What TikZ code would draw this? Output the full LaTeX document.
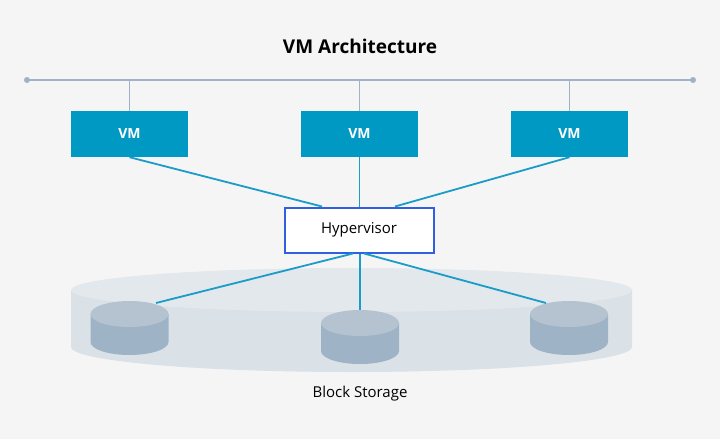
\documentclass[tikz,border=0pt]{standalone}
\usepackage{fontspec}
\setmainfont{Open Sans}
\definecolor{bg}{HTML}{F5F5F5}
\definecolor{bus}{HTML}{9FB3C8}
\definecolor{vm}{HTML}{0099C4}
\definecolor{link}{HTML}{1A9BC8}
\definecolor{hvb}{HTML}{3060E0}
\definecolor{ptop}{HTML}{E3E8EC}
\definecolor{pside}{HTML}{DAE1E7}
\definecolor{ctop}{HTML}{B5C3D1}
\definecolor{cside}{HTML}{9FB3C6}
\begin{document}
\begin{tikzpicture}[x=1pt,y=-1pt,
  vmbox/.style={fill=vm,minimum width=117pt,minimum height=46pt,inner sep=0pt,text=white,font=\bfseries\fontsize{14}{16}\selectfont},
  lnk/.style={draw=link,line width=1.8pt},
  drop/.style={draw=bus,line width=1.8pt}]
\useasboundingbox (0,0) rectangle (720,439);
\fill[bg] (0,0) rectangle (720,439);
\node[font=\fontsize{19}{22}\selectfont\bfseries] (title) at (360,46) {VM Architecture};
% bus
\coordinate (b1) at (27,80); \coordinate (b2) at (693,80);
\draw[drop] (b1) -- (b2);
\fill[bus] (b1) circle (3); \fill[bus] (b2) circle (3);
% VMs
\node[vmbox] (vm1) at (129.5,134) {VM};
\node[vmbox] (vm2) at (359.5,134) {VM};
\node[vmbox] (vm3) at (569.5,134) {VM};
\foreach \v in {vm1,vm2,vm3} \draw[drop] (\v.north) -- (\v.north |- b1);
% platter
\fill[pside] (71,290) -- (71,347) arc[start angle=180,end angle=0,x radius=280.5,y radius=25] -- (632,290) -- cycle;
\fill[ptop] (351.5,290) ellipse[x radius=280.5,y radius=22];
% cylinders
\foreach \n/\cx/\cy in {c1/129.5/314,c2/360/323,c3/569/314}{
  \fill[cside] (\cx-39,\cy) -- (\cx-39,\cy+28) arc[start angle=180,end angle=0,x radius=39,y radius=13] -- (\cx+39,\cy) -- cycle;
  \fill[ctop] (\cx,\cy) ellipse[x radius=39,y radius=13];
  \coordinate (\n) at (\cx,\cy);
}
\coordinate (c1t) at (156,303); \coordinate (c2t) at (360,310); \coordinate (c3t) at (546,303);
% hypervisor
\node[draw=hvb,line width=2pt,fill=white,minimum width=149pt,minimum height=45pt,inner sep=0pt,font=\fontsize{15}{18}\selectfont] (hv) at (359,230) {Hypervisor};
\draw[lnk] (vm1.south) -- (hv.north west -| 322,0);
\draw[lnk] (vm2.south) -- (hv.north -| vm2.south);
\draw[lnk] (vm3.south) -- (hv.north east -| 395,0);
\draw[lnk] (hv.south -| 353,0) -- (c1t);
\draw[lnk] (hv.south -| 360,0) -- (c2t);
\draw[lnk] (hv.south -| 364,0) -- (c3t);
\node[font=\fontsize{15}{18}\selectfont] (bs) at (360,394) {Block Storage};
\end{tikzpicture}
\end{document}
